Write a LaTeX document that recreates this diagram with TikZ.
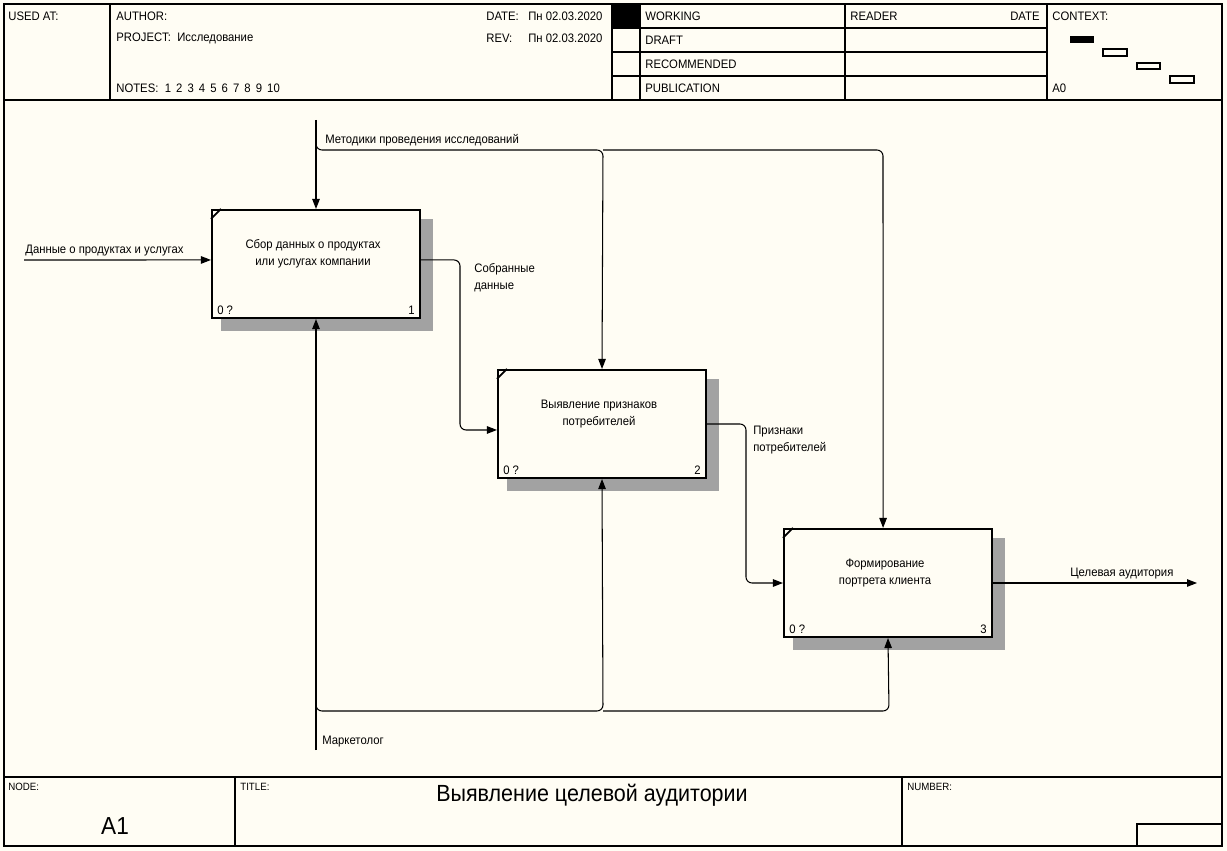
\documentclass[tikz,border=0pt]{standalone}
\usepackage{fontspec}
\setmainfont[FakeStretch=0.92]{Liberation Sans}
\usepackage{tikz}
\usetikzlibrary{arrows.meta,positioning,calc,backgrounds}
\definecolor{idefbg}{HTML}{FFFDF4}
\definecolor{idefshadow}{HTML}{A2A2A2}

\begin{document}
\begin{tikzpicture}[x=0.02cm,y=-0.02cm,
  every node/.style={font=\fontsize{7}{9.6}\selectfont,inner sep=0pt},
  sheet/.style={draw=black,line width=0.6pt},
  func/.style={draw=black,line width=1.2pt,fill=idefbg,minimum width=4.16cm,minimum height=2.16cm},
  ftext/.style={align=center},
  shadowfill/.style={fill=idefshadow},
  hdr/.style={anchor=west},
  lbl/.style={anchor=west,align=left},
  small/.style={anchor=west,font=\fontsize{6}{7}\selectfont},
  flow/.style={draw=black,line width=0.6pt,rounded corners=1.2mm},
  arr/.style={flow,-{Triangle[length=2mm,width=1.5mm]}}]

  \useasboundingbox (0,0) rectangle (1227,851);
  \begin{scope}[on background layer]
    \fill[idefbg] (0,0) rectangle (1227,851);
  \end{scope}

  % form frame
  \draw[sheet] (4,4) rectangle (1222,846);
  \draw[sheet] (4,100) -- (1222,100);
  \draw[sheet] (4,777) -- (1222,777);
  \draw[sheet] (110,4) -- (110,100);
  \draw[sheet] (612,4) -- (612,100);
  \draw[sheet] (640,4) -- (640,100);
  \draw[sheet] (845,4) -- (845,100);
  \draw[sheet] (1047,4) -- (1047,100);
  \foreach \yy in {28,52,76}
    \draw[sheet] (612,\yy) -- (1047,\yy);
  \fill (612,4) rectangle (640,28);

  \node[hdr] (usedat) at (8,16) {USED AT:};
  \node[hdr] (author) at (116,16) {AUTHOR:};
  \node[hdr] (project) at (116,38) {PROJECT:\ \ Исследование};
  \node[hdr] (notes) at (116,88) {NOTES:\ \ 1\hspace{2.9pt}2\hspace{2.9pt}3\hspace{2.9pt}4\hspace{2.9pt}5\hspace{2.9pt}6\hspace{2.9pt}7\hspace{2.9pt}8\hspace{2.9pt}9\hspace{2.9pt}10};
  \node[hdr] (date) at (486,16) {DATE:};
  \node[hdr] (dateval) at (528,16) {Пн 02.03.2020};
  \node[hdr] (rev) at (486,38) {REV:};
  \node[hdr] (revval) at (528,38) {Пн 02.03.2020};
  \node[hdr] (working) at (645,16) {WORKING};
  \node[hdr] (draft) at (645,40) {DRAFT};
  \node[hdr] (recom) at (645,64) {RECOMMENDED};
  \node[hdr] (publ) at (645,88) {PUBLICATION};
  \node[hdr] (reader) at (850,16) {READER};
  \node[anchor=east] (rdate) at (1040,16) {DATE};
  \node[hdr] (context) at (1052,16) {CONTEXT:};
  \node[hdr] (ctxnode) at (1052,88) {A0};

  % context map
  \fill (1070,36) rectangle (1094,43);
  \draw[sheet] (1103,49) rectangle (1127,56);
  \draw[sheet] (1137,63) rectangle (1160,69);
  \draw[sheet] (1170,76) rectangle (1194,83);

  % footer
  \draw[sheet] (235,777) -- (235,846);
  \draw[sheet] (902,777) -- (902,846);
  \draw[sheet] (1137,824) rectangle (1222,846);
  \node[small] (nodelbl) at (8,787) {NODE:};
  \node[font=\fontsize{14}{16}\selectfont] (nodeval) at (115,826) {A1};
  \node[small] (titlelbl) at (240,787) {TITLE:};
  \node[font=\fontsize{13.3}{15}\selectfont] (title) at (592,795) {Выявление целевой аудитории};
  \node[small] (numlbl) at (907,787) {NUMBER:};

  % functions
  \node[func] (b1) at (316,264) {};
  \node[func] (b2) at (602,424) {};
  \node[func] (b3) at (888,583) {};
  \node[ftext] (t1) at ($(b1)+(-3,-10)$) {Сбор данных о продуктах\\или услугах компании};
  \node[ftext] (t2) at ($(b2)+(-3,-10)$) {Выявление признаков\\потребителей};
  \node[ftext] (t3) at ($(b3)+(-3,-10)$) {Формирование\\портрета клиента};

  \foreach \b/\n in {b1/1,b2/2,b3/3}{
    \begin{scope}[on background layer]
      \fill[shadowfill] ($(\b.north east)+(0,10)$) rectangle ($(\b.south east)+(12,12)$);
      \fill[shadowfill] ($(\b.south west)+(10,0)$) rectangle ($(\b.south east)+(12,12)$);
    \end{scope}
    \draw[line width=1pt] ($(\b.north west)+(0,10)$) -- ($(\b.north west)+(10,0)$);
    \node[anchor=south west] at ($(\b.south west)+(6,-4)$) {0 ?};
    \node[anchor=south east] at ($(\b.south east)+(-6,-4)$) {\n};
  }

  % input
  \coordinate (inp) at (24,260);
  \draw[arr] (inp) -- ([yshift=2.3pt]b1.west);
  \node[lbl] (l1) at (25,251) {Данные о продуктах и услугах};

  % control
  \coordinate (ctl) at (316,120);
  \coordinate (ctlsplit) at (316,138);
  \coordinate (ctlbus) at (603,150);
  \coordinate (ctlend) at (883,150);
  \draw[arr] (ctl) -- (b1.north);
  \draw[arr] (ctlsplit) |- (ctlbus) -- (b2.north);
  \draw[arr] (ctlbus) -- (ctlend) -- ([xshift=-2.8pt]b3.north);
  \node[lbl] (l2) at (325,140) {Методики проведения исследований};

  % outputs
  \coordinate (bend1) at (460,340);
  \draw[arr] ([yshift=2.3pt]b1.east) -| (bend1) |- ([yshift=-3.4pt]b2.west);
  \node[lbl] (l3) at (474,278) {Собранные\\данные};
  \coordinate (bend2) at (746,500);
  \draw[arr] (b2.east) -| (bend2) |- (b3.west);
  \node[lbl] (l4) at (753,440) {Признаки\\потребителей};
  \coordinate (out) at (1197,583);
  \draw[arr] (b3.east) -- (out);
  \node[lbl] (l5) at (1070,574) {Целевая аудитория};

  % mechanism
  \coordinate (mech) at (316,750);
  \coordinate (mechsplit) at (316,700);
  \coordinate (mechbus) at (603,711);
  \coordinate (mechend) at (889,711);
  \draw[arr] (mech) -- (b1.south);
  \draw[arr] (mechsplit) |- (mechbus) -- (b2.south);
  \draw[arr] (mechbus) -- (mechend) -- (b3.south);
  \node[lbl] (l6) at (322,742) {Маркетолог};

\end{tikzpicture}
\end{document}
